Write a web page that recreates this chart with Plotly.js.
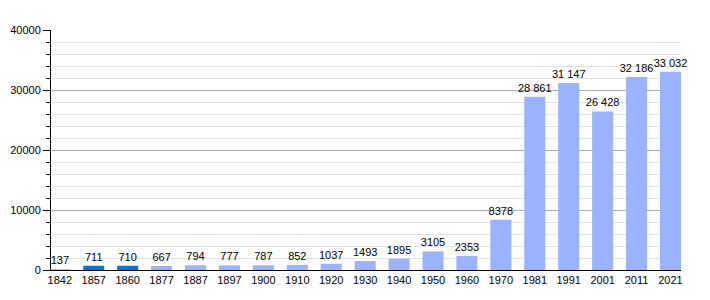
<!DOCTYPE html>
<html><head><meta charset="utf-8">
<script src="https://cdn.plot.ly/plotly-3.0.1.min.js"></script>
<style>body{margin:0;background:#fff}#c{width:710px;height:300px}</style>
</head><body><div id="c"></div>
<script>
const years = ['1842','1857','1860','1877','1887','1897','1900','1910','1920','1930','1940','1950','1960','1970','1981','1991','2001','2011','2021'];
const population = [137,711,710,667,794,777,787,852,1037,1493,1895,3105,2353,8378,28861,31147,26428,32186,33032];
const highlighted = ['1857','1860'];
const yTicks = [0,10000,20000,30000,40000];

function fmt(v){
  const s = String(v);
  if (v >= 10000) return s.slice(0, s.length-3) + ' ' + s.slice(s.length-3);
  return s;
}
const colors = years.map(y => highlighted.includes(y) ? '#0b74c4' : '#99b3ff');

Plotly.newPlot('c', [{
  type:'bar', x: years, y: population,
  marker:{color: colors},
  width: 0.62,
  text: population.map(fmt), textposition:'outside', cliponaxis:false,
  constraintext:'none', textangle:0,
  textfont:{family:'Liberation Sans, Arial, sans-serif', size:11, color:'#000'},
  hoverinfo:'none'
}], {
  width:710, height:300,
  margin:{l:51, r:29, t:30, b:30},
  paper_bgcolor:'#fff', plot_bgcolor:'#fff',
  font:{family:'Liberation Sans, Arial, sans-serif', size:11, color:'#000'},
  showlegend:false,
  xaxis:{type:'category', range:[-0.26, 18.31], showline:true, linecolor:'#000', linewidth:1,
         ticks:'', showgrid:false, zeroline:false, tickfont:{size:11}, fixedrange:true},
  yaxis:{range:[0,40000], tickvals:yTicks, ticktext:yTicks.map(String), showline:true, linecolor:'#000', linewidth:1,
         ticks:'outside', ticklen:7, tickcolor:'#000', tickwidth:1,
         showgrid:true, gridcolor:'#aaaaaa', gridwidth:1, zeroline:false,
         minor:{dtick:2000, ticks:'outside', ticklen:4, tickcolor:'#000', showgrid:true, gridcolor:'#e3e3e3', gridwidth:1},
         tickfont:{size:11}, fixedrange:true}
}, {staticPlot:true});
</script></body></html>
